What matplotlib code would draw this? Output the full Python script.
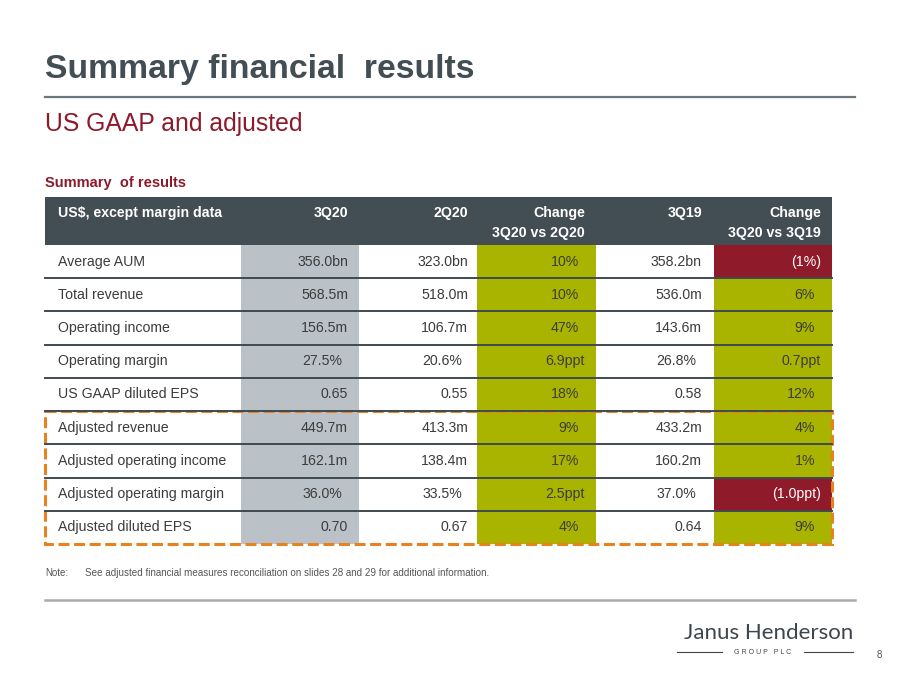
import matplotlib
matplotlib.use("Agg")
import matplotlib.pyplot as plt
from matplotlib.patches import Rectangle

plt.rcParams['font.family'] = ['Liberation Sans', 'DejaVu Sans']

# 数据
header = ["US$, except margin data", "3Q20", "2Q20", "Change\n3Q20 vs 2Q20", "3Q19", "Change\n3Q20 vs 3Q19"]
row_labels = ["Average AUM", "Total revenue", "Operating income", "Operating margin",
              "US GAAP diluted EPS", "Adjusted revenue", "Adjusted operating income",
              "Adjusted operating margin", "Adjusted diluted EPS"]
q3_20 = ["356.0bn", "568.5m", "156.5m", "27.5%", "0.65", "449.7m", "162.1m", "36.0%", "0.70"]
q2_20 = ["323.0bn", "518.0m", "106.7m", "20.6%", "0.55", "413.3m", "138.4m", "33.5%", "0.67"]
chg_q2 = ["10%", "10%", "47%", "6.9ppt", "18%", "9%", "17%", "2.5ppt", "4%"]
q3_19 = ["358.2bn", "536.0m", "143.6m", "26.8%", "0.58", "433.2m", "160.2m", "37.0%", "0.64"]
chg_q3 = ["(1%)", "6%", "9%", "0.7ppt", "12%", "4%", "1%", "(1.0ppt)", "9%"]
adjusted_rows = [5, 6, 7, 8]

# 颜色
DARK = '#434d54'
GREY_COL = '#bac2c7'
GREEN = '#a9b400'
RED = '#8f1a2a'
TEXT = '#3c3c3c'
ORANGE = '#e8821e'

fig = plt.figure(figsize=(9, 6.75), dpi=100)
ax = fig.add_axes([0, 0, 1, 1])
ax.set_xlim(0, 900)
ax.set_ylim(675, 0)
ax.axis('off')

# 标题
ax.text(45, 78, "Summary financial  results", fontsize=24.3, fontweight='bold', color=DARK, va='baseline')
ax.plot([45, 855], [97, 97], color='#6d767b', lw=1.6)
ax.text(45, 131, "US GAAP and adjusted", fontsize=17.8, color='#8b1a2b', va='baseline')
ax.text(45, 183, "Summary  of results", fontsize=10.5, fontweight='bold', color='#8b1a2b', va='center')

# 表格布局
col_edges = [45, 241, 359, 477, 596, 714, 832]
top, head_h = 197, 48
row_h = (544 - 245) / len(row_labels)
body_top = top + head_h
pads = [0, 11, 9, 11, 12, 11]

ax.add_patch(Rectangle((col_edges[0], top), col_edges[-1] - col_edges[0], head_h, color=DARK, lw=0))
for j, h in enumerate(header):
    lines = h.split("\n")
    for k, line in enumerate(lines):
        y = 213 + 19.5 * k
        if j == 0:
            ax.text(58, y, line, fontsize=10.2, fontweight='bold', color='white', va='center', ha='left')
        else:
            ax.text(col_edges[j + 1] - pads[j], y, line, fontsize=10.2, fontweight='bold',
                    color='white', va='center', ha='right')

columns = [q3_20, q2_20, chg_q2, q3_19, chg_q3]
for i, label in enumerate(row_labels):
    y0 = body_top + i * row_h
    yc = y0 + row_h / 2
    ax.text(58, yc, label, fontsize=10.2, color=TEXT, va='center', ha='left')
    for j, col in enumerate(columns, start=1):
        val = col[i]
        x0, x1 = col_edges[j], col_edges[j + 1]
        tcolor = TEXT
        if j == 1:
            ax.add_patch(Rectangle((x0, y0), x1 - x0, row_h, color=GREY_COL, lw=0))
        elif j in (3, 5):
            neg = val.startswith("(")
            ax.add_patch(Rectangle((x0, y0), x1 - x0, row_h, color=RED if neg else GREEN, lw=0))
            if neg:
                tcolor = 'white'
        xr = x1 - pads[j]
        if val.endswith("%") and not val.endswith(")"):
            xr -= 6
        ax.text(xr, yc, val, fontsize=10.2, color=tcolor, va='center', ha='right')
    if i < len(row_labels) - 1:
        ax.plot([col_edges[0], col_edges[-1]], [y0 + row_h, y0 + row_h], color='#3f4a50', lw=1.4)

# 调整后指标的虚线框
ay0 = body_top + adjusted_rows[0] * row_h
ay1 = body_top + (adjusted_rows[-1] + 1) * row_h
ax.add_patch(Rectangle((col_edges[0], ay0), col_edges[-1] - col_edges[0], ay1 - ay0,
                       fill=False, edgecolor=ORANGE, lw=2.2, linestyle=(0, (3.6, 1.5))))

# 注释
ax.text(45, 573, "Note:", fontsize=7, color='#555555', va='center')
ax.text(85, 573, "See adjusted financial measures reconciliation on slides 28 and 29 for additional information.",
        fontsize=7.1, color='#555555', va='center')

# 底部
ax.plot([45, 855], [600, 600], color='#a8acaf', lw=1.8)
ax.text(853, 633, "Janus Henderson", fontsize=16, color='#3d464c', va='center', ha='right',
        family=['Lato', 'DejaVu Sans'])
ax.text(763, 652, "G R O U P   P L C", fontsize=5, color='#3d464c', va='center', ha='center')
ax.plot([677, 722], [652, 652], color='#3d464c', lw=0.8)
ax.plot([804, 853], [652, 652], color='#3d464c', lw=0.8)
ax.text(879, 655, "8", fontsize=7, color='#555555', va='center', ha='center')

fig.savefig("out.png", dpi=100)
